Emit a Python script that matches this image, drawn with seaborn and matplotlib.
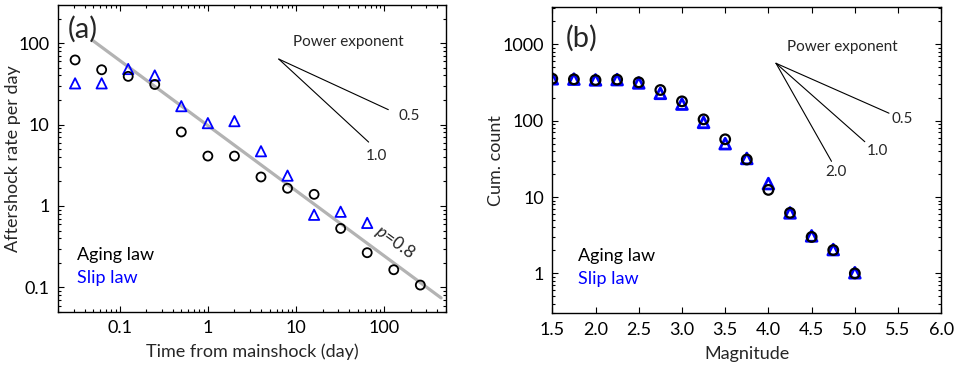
import matplotlib
matplotlib.use("Agg")
import matplotlib.pyplot as plt
import numpy as np
import seaborn as sns
from matplotlib.ticker import FuncFormatter, LogLocator, MultipleLocator

# (a) aftershock rate vs time, doubling time bins
time_aging = [1/32, 1/16, 1/8, 1/4, 1/2, 1, 2, 4, 8, 16, 32, 64, 128, 256]
rate_aging = [62, 47, 39, 31, 8.1, 4.1, 4.1, 2.27, 1.65, 1.39, 0.53, 0.267, 0.165, 0.107]
time_slip = [1/32, 1/16, 1/8, 1/4, 1/2, 1, 2, 4, 8, 16, 32, 64]
rate_slip = [32, 32, 48, 40, 16.8, 10.4, 11, 4.7, 2.36, 0.78, 0.85, 0.62]

# Omori fit
p_value = 0.8
omori_k = 9.7
omori_t = [0.05, 440]

# (b) cumulative count vs magnitude
mag = [1.5, 1.75, 2.0, 2.25, 2.5, 2.75, 3.0, 3.25, 3.5, 3.75, 4.0, 4.25, 4.5, 4.75, 5.0]
cum_aging = [354, 348, 340, 345, 318, 252, 179, 104, 57, 31, 12.4, 6.2, 3.0, 2.02, 1.0]
cum_slip = [354, 350, 342, 345, 312, 228, 165, 95, 50, 32, 15, 6.2, 3.1, 2.05, 1.02]

# guide slopes ("Power exponent" fans)
exps_a = [0.5, 1.0]
span_a = [1.242, 1.019]   # x extent in decades
exps_b = [0.5, 1.0, 2.0]
span_b = [1.307, 1.027, 0.642]  # x extent in magnitude units

sns.set_style("ticks")
plt.rcParams['font.family'] = ['Lato', 'DejaVu Sans']
plt.rcParams['mathtext.fontset'] = 'custom'
plt.rcParams['mathtext.it'] = 'Lato:italic'
plt.rcParams['mathtext.rm'] = 'Lato'
plt.rcParams['font.size'] = 12

BLUE = '#0000ff'

fig = plt.figure(figsize=(9.57, 3.68), dpi=100)
ax1 = fig.add_axes([0.0606, 0.1522, 0.4054, 0.8342])
ax2 = fig.add_axes([0.5771, 0.1486, 0.4065, 0.8315])


def style_axis(ax):
    for s in ax.spines.values():
        s.set_linewidth(1.0)
        s.set_color('black')
    ax.tick_params(which='both', direction='in', top=True, right=True,
                   width=0.8, colors='black', labelsize=13)
    ax.tick_params(which='major', length=4.5, pad=6)
    ax.tick_params(which='minor', length=2.3)


# ---- panel (a)
t_line = np.array(omori_t)
ax1.plot(t_line, omori_k * t_line ** (-p_value), color='#b3b3b3', lw=2.3, zorder=1)
sns.scatterplot(x=time_slip, y=rate_slip, ax=ax1, marker='^', s=55, color=BLUE,
                facecolor='none', edgecolor=BLUE, linewidth=1.3, zorder=2)
sns.scatterplot(x=time_aging, y=rate_aging, ax=ax1, marker='o', s=42, color='black',
                facecolor='none', edgecolor='black', linewidth=1.3, zorder=3)
ax1.set_xscale('log')
ax1.set_yscale('log')
ax1.set_xlim(0.02, 500)
ax1.set_ylim(0.05, 293)
fmt = FuncFormatter(lambda v, pos: '%g' % v)
ax1.xaxis.set_major_formatter(fmt)
ax1.yaxis.set_major_formatter(fmt)
ax1.xaxis.set_major_locator(LogLocator(base=10, numticks=10))
ax1.yaxis.set_major_locator(LogLocator(base=10, numticks=10))
ax1.set_xlabel('Time from mainshock (day)', fontsize=13, labelpad=5)
ax1.set_ylabel('Aftershock rate per day', fontsize=13, labelpad=-2)
style_axis(ax1)

ax1.text(132, 0.36, r'$\it{p}$=0.8', rotation=-36, fontsize=12.5,
         ha='center', va='center', zorder=5)
ax1.text(0.065, 0.922, '(a)', transform=ax1.transAxes, fontsize=21,
         ha='center', va='center')
ax1.text(0.048, 0.185, 'Aging law', transform=ax1.transAxes, fontsize=13,
         ha='left', va='center', color='black')
ax1.text(0.048, 0.11, 'Slip law', transform=ax1.transAxes, fontsize=13,
         ha='left', va='center', color=BLUE)

x0, y0 = 6.36, 63.6
for e, d in zip(exps_a, span_a):
    ax1.plot([x0, x0 * 10 ** d], [y0, y0 * 10 ** (-e * d)], color='black', lw=0.8)
ax1.annotate('Power exponent', xy=(0.749, 0.881), xycoords='axes fraction',
             ha='center', va='center', fontsize=11)
ax1.text(0.906, 0.638, '0.5', transform=ax1.transAxes, fontsize=11,
         ha='center', va='center')
ax1.text(0.821, 0.509, '1.0', transform=ax1.transAxes, fontsize=11,
         ha='center', va='center')

# ---- panel (b)
sns.scatterplot(x=mag, y=cum_slip, ax=ax2, marker='^', s=60, color=BLUE,
                facecolor='none', edgecolor=BLUE, linewidth=2.0, zorder=2)
sns.scatterplot(x=mag, y=cum_aging, ax=ax2, marker='o', s=48, color='black',
                facecolor='none', edgecolor='black', linewidth=1.6, zorder=3)
ax2.set_yscale('log')
ax2.set_xlim(1.5, 6.0)
ax2.set_ylim(0.3, 3050)
ax2.xaxis.set_major_locator(MultipleLocator(0.5))
ax2.xaxis.set_major_formatter(FuncFormatter(lambda v, pos: '%.1f' % v))
ax2.yaxis.set_major_locator(LogLocator(base=10, numticks=10))
ax2.yaxis.set_major_formatter(fmt)
ax2.set_xlabel('Magnitude', fontsize=13, labelpad=6)
ax2.set_ylabel('Cum. count', fontsize=13, labelpad=-1)
style_axis(ax2)

ax2.text(0.076, 0.9, '(b)', transform=ax2.transAxes, fontsize=21,
         ha='center', va='center')
ax2.text(0.067, 0.188, 'Aging law', transform=ax2.transAxes, fontsize=13,
         ha='left', va='center', color='black')
ax2.text(0.067, 0.113, 'Slip law', transform=ax2.transAxes, fontsize=13,
         ha='left', va='center', color=BLUE)

m0, c0 = 4.088, 564
for e, d in zip(exps_b, span_b):
    ax2.plot([m0, m0 + d], [c0, c0 * 10 ** (-e * d)], color='black', lw=0.8)
ax2.annotate('Power exponent', xy=(0.745, 0.871), xycoords='axes fraction',
             ha='center', va='center', fontsize=11)
ax2.text(0.9, 0.635, '0.5', transform=ax2.transAxes, fontsize=11,
         ha='center', va='center')
ax2.text(0.836, 0.532, '1.0', transform=ax2.transAxes, fontsize=11,
         ha='center', va='center')
ax2.text(0.729, 0.463, '2.0', transform=ax2.transAxes, fontsize=11,
         ha='center', va='center')

fig.savefig('out.png', dpi=100)
